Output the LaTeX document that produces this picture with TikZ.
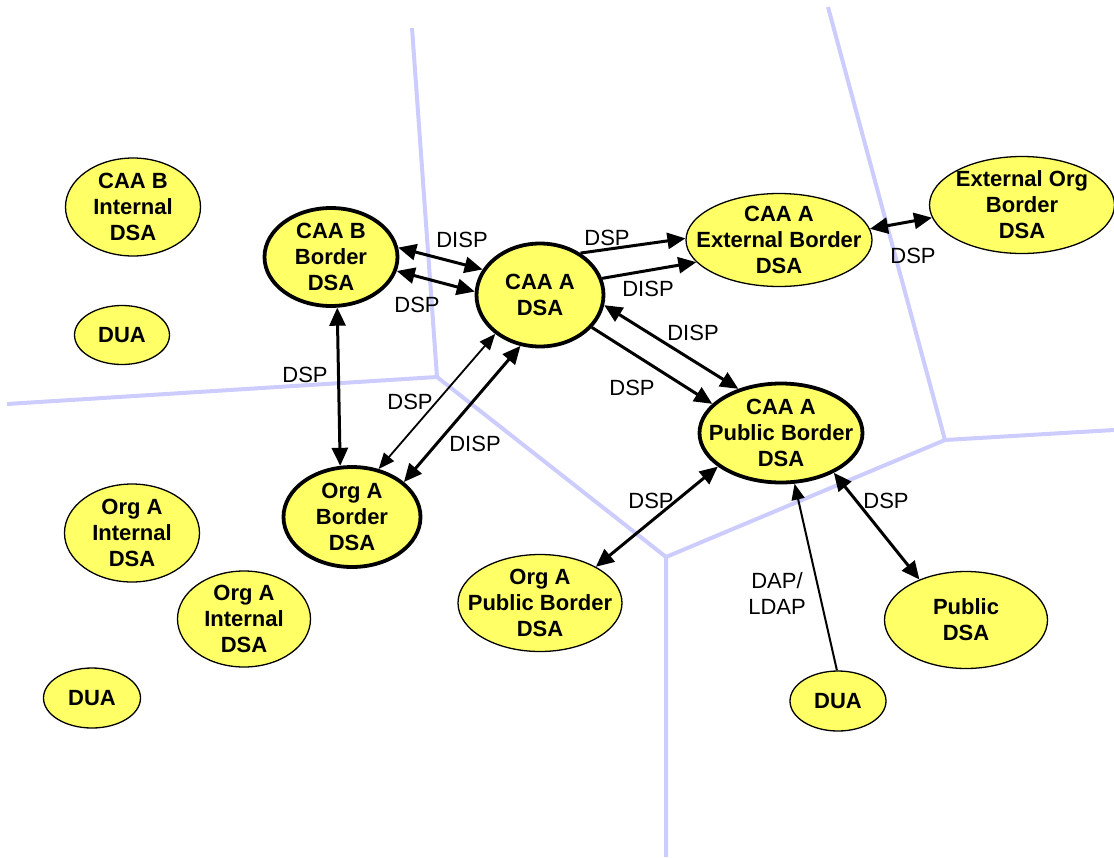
\documentclass[tikz,border=0pt]{standalone}
\usepackage{fontspec}
\setmainfont{Liberation Sans}
\usetikzlibrary{arrows.meta,shapes.geometric}
\definecolor{dsafill}{HTML}{FFFF66}
\definecolor{zoneline}{HTML}{CCCCFF}
\begin{document}
\begin{tikzpicture}[x=1pt,y=-1pt,
    dsa/.style={ellipse, draw, fill=dsafill, line width=1.3pt, inner sep=-30pt, align=center,
                font=\fontsize{22}{26}\selectfont\bfseries},
    border/.style={line width=3.8pt},
    lbl/.style={font=\fontsize{22}{26}\selectfont, align=center},
    both/.style={line width=3pt, {Triangle[length=18pt,width=16pt]}-{Triangle[length=18pt,width=16pt]}},
    boththin/.style={line width=1.8pt, {Triangle[length=16pt,width=13pt]}-{Triangle[length=16pt,width=13pt]}},
    one/.style={line width=3pt, -{Triangle[length=18pt,width=16pt]}},
    onethin/.style={line width=2pt, -{Triangle[length=16pt,width=13pt]}},
    zone/.style={draw=zoneline, line width=4pt, line join=round}]
    \useasboundingbox (0,0) rectangle (1114,857);

    % zone boundaries
    \coordinate (jwest) at (437,377);
    \coordinate (jsouth) at (666,557);
    \coordinate (jeast) at (945,440);
    \draw[zone] (412,28) -- (jwest) -- (7,404);
    \draw[zone] (jwest) -- (jsouth) -- (666,857);
    \draw[zone] (jsouth) -- (jeast) -- (828,7);
    \draw[zone] (jeast) -- (1114,430);

    % directory agents
    \node[dsa, minimum width=135pt, minimum height=98pt] (caabint) at (133,207) {CAA B\\Internal\\DSA};
    \node[dsa, minimum width=95pt, minimum height=59pt] (duanw) at (122,335) {DUA};
    \node[dsa, border, minimum width=133pt, minimum height=98pt] (caabborder) at (331,257) {CAA B\\Border\\DSA};
    \node[dsa, border, minimum width=127pt, minimum height=103pt] (caaa) at (540,295) {CAA A\\DSA};
    \node[dsa, minimum width=186pt, minimum height=93pt] (caaext) at (779,240) {CAA A\\External Border\\DSA};
    \node[dsa, minimum width=185pt, minimum height=97pt] (extorg) at (1022,205) {External Org\\Border\\DSA};
    \node[dsa, border, minimum width=163pt, minimum height=99pt] (caapub) at (781,433) {CAA A\\Public Border\\DSA};
    \node[dsa, border, minimum width=137pt, minimum height=100pt] (orgaborder) at (352,517) {Org A\\Border\\DSA};
    \node[dsa, minimum width=135pt, minimum height=98pt] (orgaint) at (132,533) {Org A\\Internal\\DSA};
    \node[dsa, minimum width=133pt, minimum height=96pt] (orgaintb) at (244,619) {Org A\\Internal\\DSA};
    \node[dsa, minimum width=97pt, minimum height=60pt] (duasw) at (92,698) {DUA};
    \node[dsa, minimum width=164pt, minimum height=97pt] (orgapub) at (540,603) {Org A\\Public Border\\DSA};
    \node[dsa, minimum width=163pt, minimum height=97pt] (pubdsa) at (966,620) {Public\\DSA};
    \node[dsa, minimum width=96pt, minimum height=60pt] (duase) at (838,701) {DUA};

    % protocol links
    \draw[both] (caabborder.8) -- (caaa.156);
    \draw[both] (caabborder.-12) -- (caaa.177);
    \draw[both] (caabborder.-83) -- (orgaborder.103);
    \draw[boththin] (caaa.221) -- (orgaborder.61);
    \draw[both] (caaa.249) -- (orgaborder.34);
    \draw[one] (caaa.46) -- (caaext.179);
    \draw[one] (caaa.15) -- (caaext.195);
    \draw[both] (caaa.-9) -- (caapub.134);
    \draw[one] (caaa.-32) -- (caapub.157);
    \draw[both] (caapub.208) -- (orgapub.33);
    \draw[onethin] (duase.92) -- (caapub.285);
    \draw[both] (caapub.323) -- (pubdsa.139);
    \draw[both] (caaext.7) -- (extorg.188);

    % link labels
    \node[lbl] (disptop) at (462,240) {DISP};
    \node[lbl] (dspbb) at (417,305) {DSP};
    \node[lbl] (dspvert) at (305,375) {DSP};
    \node[lbl] (dsporg) at (410,402) {DSP};
    \node[lbl] (disporg) at (475,444) {DISP};
    \node[lbl] (dspext) at (607,238) {DSP};
    \node[lbl] (dispext) at (648,289) {DISP};
    \node[lbl] (disppub) at (693,333) {DISP};
    \node[lbl] (dsppub) at (632,388) {DSP};
    \node[lbl] (dsporgpub) at (651,501) {DSP};
    \node[lbl] (dsppubdsa) at (886,501) {DSP};
    \node[lbl] (dapldap) at (777,594) {DAP/\\LDAP};
    \node[lbl] (dspextorg) at (913,256) {DSP};
\end{tikzpicture}
\end{document}
